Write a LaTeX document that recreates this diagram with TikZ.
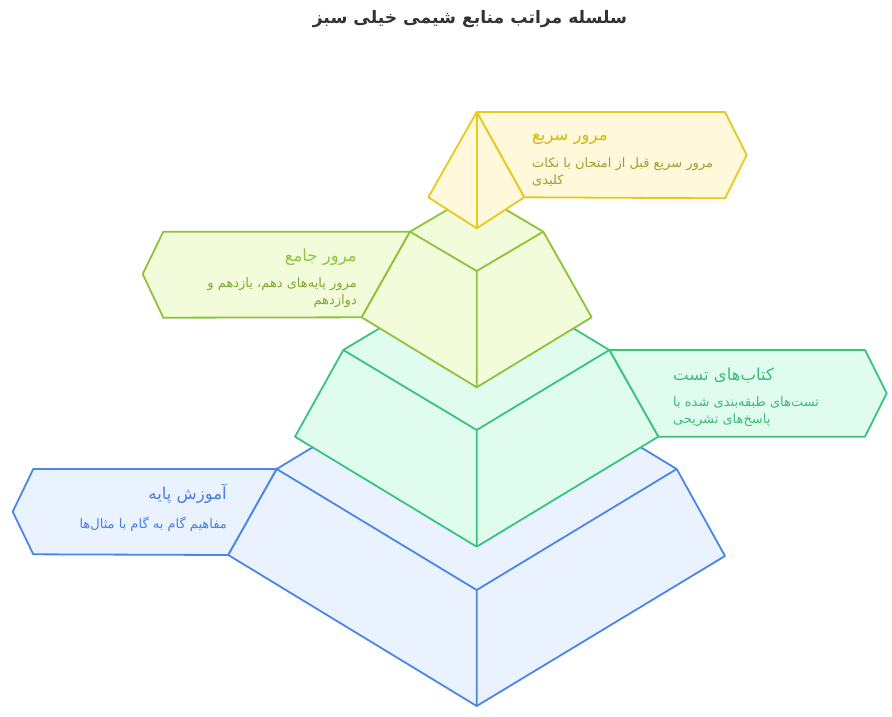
\documentclass[tikz,border=0pt]{standalone}
\usepackage{fontspec}
\TeXXeTstate=1
\newfontfamily\fa[Script=Arabic]{DejaVu Sans}
\definecolor{bS}{RGB}{74,134,232}\definecolor{bF}{RGB}{235,242,255}\definecolor{bT}{RGB}{74,127,224}
\definecolor{gS}{RGB}{56,196,124}\definecolor{gF}{RGB}{224,252,238}\definecolor{gT}{RGB}{61,187,122}
\definecolor{lS}{RGB}{142,194,56}\definecolor{lF}{RGB}{242,252,218}\definecolor{lT}{RGB}{141,198,63}\definecolor{lD}{RGB}{128,168,52}
\definecolor{yS}{RGB}{232,200,28}\definecolor{yF}{RGB}{255,248,218}\definecolor{yT}{RGB}{212,184,12}\definecolor{yD}{RGB}{168,155,46}
\definecolor{ttl}{RGB}{51,51,51}
\tikzset{
  face/.style={line width=1.8pt,line join=round},
  ltitle/.style={inner sep=0pt,font=\fa\fontsize{16.5}{18}\selectfont},
  ldesc/.style={inner sep=0pt,font=\fa\fontsize{13}{15}\selectfont},
}
\begin{document}
\begin{tikzpicture}[x=1pt,y=-1pt]
\useasboundingbox (0,0) rectangle (892,716);
\node[font=\fa\bfseries\fontsize{17.2}{20}\selectfont,text=ttl,inner sep=0pt] (title) at (470,19) {\beginR سلسله مراتب منابع شیمی خیلی سبز\endR};
% ---------- blue layer ----------
\draw[face,draw=bS,fill=bF] (276.7,469) -- (33.3,469) -- (12.7,511.7) -- (33.3,554.3) -- (228.3,555) -- cycle;
\draw[face,draw=bS,fill=bF] (276.7,469) -- (476.7,348) -- (676.7,469) -- (725,556) -- (476.7,706) -- (228.3,555) -- cycle;
\draw[face,draw=bS] (276.7,469) -- (476.7,590) -- (676.7,469) (476.7,590) -- (476.7,706);
\node[ltitle,text=bT,anchor=east] (bt) at (227,494) {\beginR آموزش پایه\endR};
\node[ldesc,text=bT,anchor=east] (bd) at (227,524) {\beginR مفاهیم گام به گام با مثال‌ها\endR};
% ---------- green layer ----------
\draw[face,draw=gS,fill=gF] (609.3,350) -- (865,350) -- (886.7,393.3) -- (865,436.7) -- (658.3,436.7) -- cycle;
\draw[face,draw=gS,fill=gF] (343.3,350) -- (476.7,270) -- (609.3,350) -- (658.3,436.7) -- (476.7,546.7) -- (295,436.7) -- cycle;
\draw[face,draw=gS] (343.3,350) -- (476.7,430) -- (609.3,350) (476.7,430) -- (476.7,546.7);
\node[ltitle,text=gT,anchor=west] (gt) at (673,376) {\beginR کتاب‌های تست\endR};
\node[ldesc,text=gT,anchor=west] (gd1) at (673,403) {\beginR تست‌های طبقه‌بندی شده با\endR};
\node[ldesc,text=gT,anchor=west] (gd2) at (673,420) {\beginR پاسخ‌های تشریحی\endR};
% ---------- lime layer ----------
\draw[face,draw=lS,fill=lF] (410,231.7) -- (163.3,231.7) -- (142.7,274) -- (163.3,317.7) -- (361.7,317.3) -- cycle;
\draw[face,draw=lS,fill=lF] (410,231.7) -- (476.7,192.4) -- (543.3,231.7) -- (591.7,317.3) -- (476.7,387.3) -- (361.7,317.3) -- cycle;
\draw[face,draw=lS] (410,231.7) -- (476.7,271) -- (543.3,231.7) (476.7,271) -- (476.7,387.3);
\node[ltitle,text=lT,anchor=east] (lt) at (357,257) {\beginR مرور جامع\endR};
\node[ldesc,text=lD,anchor=east] (ld1) at (357,284) {\beginR مرور پایه‌های دهم، یازدهم و\endR};
\node[ldesc,text=lD,anchor=east] (ld2) at (357,301) {\beginR دوازدهم\endR};
% ---------- yellow layer ----------
\draw[face,draw=yS,fill=yF] (476.7,112) -- (725,112) -- (746.7,155) -- (725,198.3) -- (524.3,197.3) -- cycle;
\draw[face,draw=yS,fill=yF] (476.7,112) -- (524.3,197.3) -- (476.7,228.3) -- (428.3,197.3) -- cycle;
\draw[face,draw=yS] (476.7,112) -- (476.7,228.3);
\node[ltitle,text=yT,anchor=west] (yt) at (532,139) {\beginR مرور سریع\endR};
\node[ldesc,text=yD,anchor=west] (yd1) at (532,164) {\beginR مرور سریع قبل از امتحان با نکات\endR};
\node[ldesc,text=yD,anchor=west] (yd2) at (532,181) {\beginR کلیدی\endR};
\end{tikzpicture}
\end{document}
